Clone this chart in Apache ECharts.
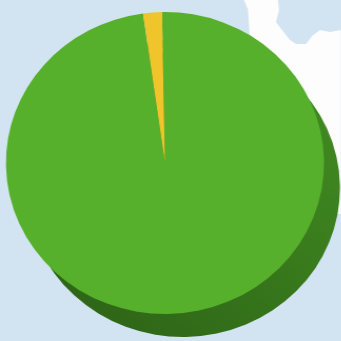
<!DOCTYPE html>
<html>
<head>
<meta charset="utf-8">
<script src="https://cdn.jsdelivr.net/npm/echarts@6/dist/echarts.min.js"></script>
<style>
  html, body { margin: 0; padding: 0; background: #d2e4f2; overflow: hidden; }
  /* the pie is drawn round and then widened a little, giving the tilted, oval look */
  #chart { width: 324px; height: 341px; transform-origin: 0 0; transform: scaleX(1.0535); }
</style>
</head>
<body>
<div id="chart"></div>
<script>
// Two-part share shown as an extruded pie
const categories = ['Majority', 'Minority'];
const shareValues = [98.1, 1.9];
const topColors = ['#56b02b', '#f0c52b'];
const sideColors = ['#3d8420', '#b08f1c'];

const stretch = 1.0535;
const sx = x => x / stretch;

const pieData = categories.map((name, i) => ({ name, value: shareValues[i] }));

const landPatch = [[244, 0], [278, 0], [279, 10], [276, 22], [282, 30], [290, 40], [296, 44],
  [306, 44], [312, 36], [320, 30], [330, 32], [341, 30], [341, 214], [320, 214], [250, 40], [248, 10]];

const chart = echarts.init(document.getElementById('chart'), null, { renderer: 'canvas' });

chart.setOption({
  backgroundColor: '#d2e4f2',
  animation: false,
  graphic: [
    {
      type: 'polygon', z: -10, silent: true,
      shape: { points: landPatch.map(([x, y]) => [sx(x), y]) },
      style: { fill: '#fdfdfd' }
    }
  ],
  series: [
    {
      // side wall of the extruded pie
      type: 'pie',
      center: [sx(183), 188],
      radius: [0, 149],
      startAngle: 91.1,
      clockwise: true,
      silent: true,
      label: { show: false },
      labelLine: { show: false },
      data: pieData.map((d, i) => ({
        ...d,
        itemStyle: {
          color: i === 0 ? {
            type: 'linear', x: 1, y: 0.2, x2: 0.3, y2: 1,
            colorStops: [
              { offset: 0, color: '#418b22' },
              { offset: 0.6, color: '#36751b' },
              { offset: 1, color: '#2f6618' }
            ]
          } : sideColors[i]
        }
      })),
      itemStyle: { borderWidth: 0 },
      z: 1
    },
    {
      // top face
      type: 'pie',
      center: [sx(165), 163],
      radius: [0, 151],
      startAngle: 91.1,
      clockwise: true,
      silent: true,
      label: { show: false },
      labelLine: { show: false },
      data: pieData.map((d, i) => ({ ...d, itemStyle: { color: topColors[i] } })),
      itemStyle: { borderWidth: 0 },
      z: 2
    }
  ]
});
</script>
</body>
</html>
